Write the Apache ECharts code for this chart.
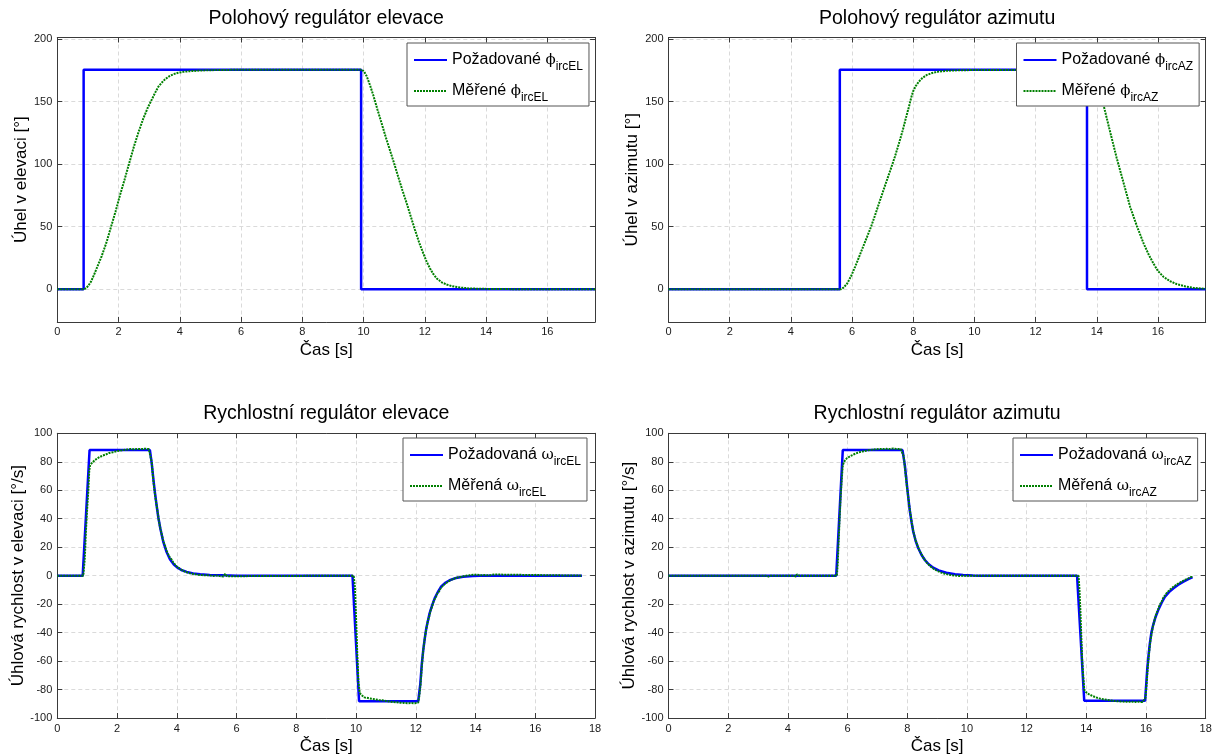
<!DOCTYPE html>
<html><head><meta charset="utf-8">
<script src="https://cdn.jsdelivr.net/npm/echarts@6/dist/echarts.min.js"></script>
<style>html,body{margin:0;padding:0;background:#fff}#c{width:1225px;height:756px}</style>
</head><body><div id="c"></div>
<script>
// ---------- texts ----------
const titles = ['Polohový regulátor elevace','Polohový regulátor azimutu','Rychlostní regulátor elevace','Rychlostní regulátor azimutu'];
const yNames = ['Úhel v elevaci [°]','Úhel v azimutu [°]','Úhlová rychlost v elevaci [°/s]','Úhlová rychlost v azimutu [°/s]'];
const xName = 'Čas [s]';
const legendReqWord = ['Požadované ','Požadované ','Požadovaná ','Požadovaná '];
const legendMeasWord = ['Měřené ','Měřené ','Měřená ','Měřená '];
const legendSym = ['ϕ','ϕ','ω','ω'];
const legendSub = ['ircEL','ircAZ','ircEL','ircAZ'];

// ---------- axis ranges ----------
const posXMax = 17.56, velXMax = 18, xStep = 2;
const posYMin = -26.2, posYMax = 201.4;
const velYMin = -100, velYMax = 100, velYStep = 20;

// ---------- data [t, value] ----------
const posElReq = [[0,0],[0.86,0],[0.86,175.6],[9.92,175.6],[9.92,0],[17.56,0]];
const posElMeas = [[0,0],[0.88,0],[0.95,1],[1.02,3],[1.1,6],[1.2,11.5],[1.3,17.5],[1.45,26.5],[1.6,37],[1.75,49.5],[1.9,62],[2.05,75.5],[2.2,88],[2.35,101],[2.5,114],[2.65,125.5],[2.8,136],[2.95,145],[3.05,150],[3.13,154],[3.2,157.5],[3.3,162],[3.4,165],[3.52,168],[3.65,170.3],[3.79,172],[3.95,173.2],[4.11,173.9],[4.3,174.4],[4.55,174.8],[4.9,175.2],[5.31,175.4],[6,175.6],[9.95,175.6],[10.02,174],[10.1,170.5],[10.2,164],[10.32,155],[10.45,144],[10.59,132.7],[10.72,122],[10.86,111.3],[11.0,100.5],[11.13,90],[11.27,79],[11.41,68.6],[11.55,57.5],[11.68,47.3],[11.82,37],[11.95,28.6],[12.06,22],[12.17,16.6],[12.28,12],[12.39,8.6],[12.55,5.5],[12.71,3.7],[12.9,2.3],[13.15,1.3],[13.45,0.6],[13.8,0.3],[14.3,0.1],[15,0],[17.56,0]];

const posAzReq = [[0,0],[5.6,0],[5.6,175.5],[13.68,175.5],[13.68,0],[17.56,0]];
const posAzMeas = [[0,0],[5.64,0],[5.72,1.2],[5.84,4.5],[5.97,10.5],[6.1,17.9],[6.23,25.8],[6.36,33.9],[6.49,41.8],[6.62,49.9],[6.75,59],[6.88,68.6],[7.01,78],[7.14,87.3],[7.27,96.5],[7.4,106],[7.53,116.5],[7.66,127.4],[7.76,137],[7.86,146],[7.93,153],[7.99,158],[8.08,162.5],[8.18,166],[8.3,169],[8.44,171.4],[8.62,173],[8.83,174.1],[9.1,174.8],[9.49,175.2],[10.2,175.4],[13.72,175.4],[13.8,174],[13.9,170],[14.05,160],[14.22,147.4],[14.43,126.5],[14.65,105],[14.87,85.5],[15.09,65.9],[15.31,50.5],[15.53,36.6],[15.7,27.5],[15.85,20.6],[16.0,14.5],[16.18,9.9],[16.4,6.3],[16.62,4],[16.9,2.2],[17.16,1.0],[17.4,0.5],[17.56,0.3]];

const velElReq = [[0,0],[0.85,0],[1.08,88.2],[3.1,88.2],[3.16,79],[3.22,67],[3.27,58],[3.32,50],[3.38,41],[3.45,33],[3.55,23.5],[3.65,17],[3.77,11.5],[3.9,7.8],[4.0,6],[4.15,4],[4.33,2.6],[4.55,1.6],[4.78,1.0],[5.1,0.5],[5.56,0.2],[6.0,0],[9.88,0],[10.1,-88.2],[12.08,-88.2],[12.15,-76],[12.2,-62],[12.25,-52],[12.3,-44],[12.35,-37],[12.46,-26.5],[12.55,-20.5],[12.63,-16],[12.75,-11],[12.85,-7.5],[13.0,-4.8],[13.13,-3.2],[13.35,-1.6],[13.58,-0.7],[13.9,-0.2],[14.13,0],[17.56,0]];
const velElMeas = [[0,0],[0.87,0],[0.92,12],[0.96,32],[1.0,47],[1.04,60],[1.07,74],[1.1,77.5],[1.15,79],[1.2,79.8],[1.26,81.2],[1.32,81.6],[1.38,82.9],[1.44,83.1],[1.5,84.2],[1.56,83.9],[1.62,85.1],[1.68,85.3],[1.74,86.2],[1.8,85.8],[1.86,86.7],[1.92,86.5],[1.98,87.4],[2.04,87.0],[2.1,87.8],[2.16,87.3],[2.22,88.3],[2.28,87.6],[2.34,88.6],[2.4,87.9],[2.46,88.9],[2.52,88.1],[2.58,88.8],[2.64,88.2],[2.7,89.0],[2.76,88.3],[2.82,88.9],[2.88,88.1],[2.94,89.2],[3.0,88.3],[3.06,88.9],[3.12,88.0],[3.16,80],[3.2,70],[3.24,62],[3.28,55.5],[3.32,50],[3.36,44.5],[3.4,38.5],[3.45,33],[3.5,28.5],[3.55,24],[3.6,21.5],[3.65,18],[3.7,15.5],[3.76,13],[3.82,11.5],[3.88,9.2],[3.94,8.5],[4.0,6.4],[4.06,6.2],[4.12,4.6],[4.18,5.0],[4.24,3.1],[4.3,3.9],[4.36,2.2],[4.42,3.0],[4.48,1.5],[4.54,2.4],[4.6,1.0],[4.66,1.9],[4.72,0.6],[4.78,1.6],[4.84,0.4],[4.9,1.3],[4.96,0.2],[5.02,1.1],[5.08,0.3],[5.14,0.9],[5.2,-0.2],[5.26,0.8],[5.32,0.1],[5.38,0.6],[5.44,-0.3],[5.5,0.7],[5.56,-0.6],[5.62,1.2],[5.68,-0.4],[5.72,0],[9.92,0],[9.96,-8],[10.0,-30],[10.04,-55],[10.08,-75],[10.12,-82],[10.16,-83.5],[10.22,-84.2],[10.28,-85.5],[10.34,-84.9],[10.4,-86.0],[10.46,-85.4],[10.52,-86.5],[10.58,-85.8],[10.64,-86.9],[10.7,-86.2],[10.76,-87.3],[10.82,-86.6],[10.88,-87.6],[10.94,-86.9],[11.0,-88.0],[11.06,-87.2],[11.12,-88.4],[11.18,-87.5],[11.24,-88.8],[11.3,-87.8],[11.36,-89.0],[11.42,-88.1],[11.48,-89.3],[11.54,-88.3],[11.6,-89.4],[11.66,-88.5],[11.72,-89.6],[11.78,-88.6],[11.84,-89.5],[11.9,-88.7],[11.96,-89.6],[12.02,-88.8],[12.08,-89.2],[12.12,-84],[12.16,-76],[12.2,-64],[12.24,-54],[12.28,-47],[12.32,-41],[12.36,-36.5],[12.4,-32],[12.45,-28.5],[12.5,-24],[12.55,-21.5],[12.6,-17.5],[12.66,-15.5],[12.72,-12.5],[12.78,-11],[12.84,-8.5],[12.9,-8.2],[12.96,-6],[13.02,-6.1],[13.08,-4.2],[13.14,-4.6],[13.2,-2.8],[13.26,-3.5],[13.32,-1.8],[13.38,-2.6],[13.44,-1.0],[13.5,-2.0],[13.56,-0.6],[13.62,-1.4],[13.68,-0.1],[13.74,-1.0],[13.8,0.3],[13.86,-0.7],[13.92,0.7],[13.98,-0.5],[14.04,0.6],[14.1,-0.4],[14.16,0.3],[14.22,-0.3],[14.28,0.4],[14.34,-0.2],[14.4,0.2],[14.46,-0.3],[14.52,0.5],[14.58,-0.5],[14.62,0.8],[14.66,0],[17.56,0]];

const velAzReq = [[0,0],[5.62,0],[5.84,88.2],[7.84,88.2],[7.92,77.5],[8.0,61.5],[8.05,52],[8.09,45],[8.15,37],[8.2,31],[8.28,24.5],[8.37,19.2],[8.48,14.5],[8.59,11],[8.72,8],[8.87,5.6],[9.05,3.7],[9.31,2.0],[9.6,1.0],[9.87,0.5],[10.2,0.1],[10.42,0],[13.69,0],[13.93,-87.8],[15.97,-87.8],[16.04,-66],[16.09,-55],[16.13,-47.4],[16.18,-40],[16.24,-34.7],[16.32,-29],[16.41,-24.2],[16.52,-19.2],[16.63,-15],[16.77,-11.6],[16.91,-9],[17.07,-6.5],[17.24,-4.4],[17.4,-2.6],[17.56,-1.0]];
const velAzMeas = [[0,0],[3.26,0],[3.3,-0.8],[3.32,1.1],[3.35,-0.6],[3.38,0.3],[3.42,0],[4.2,0],[4.24,1.0],[4.27,-0.7],[4.3,0.9],[4.34,-0.3],[4.38,0],[5.64,0],[5.67,8],[5.7,24],[5.73,38],[5.76,52],[5.8,66],[5.84,77.5],[5.88,80],[5.92,81.2],[5.98,82.5],[6.04,82.8],[6.1,84],[6.16,84.2],[6.22,85.3],[6.28,85.2],[6.34,86.3],[6.4,86],[6.46,87.1],[6.52,86.6],[6.58,87.6],[6.64,87],[6.7,88.1],[6.76,87.4],[6.82,88.5],[6.88,87.6],[6.94,88.8],[7.0,87.9],[7.06,89.0],[7.12,88],[7.18,88.9],[7.24,87.9],[7.3,89.1],[7.36,88],[7.42,88.9],[7.48,88.2],[7.54,89.3],[7.6,88.1],[7.66,89.0],[7.72,88.2],[7.78,88.9],[7.84,88.3],[7.88,84],[7.92,76],[7.96,68],[8.0,60.5],[8.04,54],[8.08,47],[8.12,41.5],[8.16,36],[8.2,31.5],[8.25,27],[8.3,23.5],[8.36,20.5],[8.42,17],[8.48,15],[8.54,12.5],[8.6,11.2],[8.66,9],[8.72,8.4],[8.78,6.5],[8.84,6.4],[8.9,4.6],[8.96,4.9],[9.02,3.2],[9.08,3.8],[9.14,2.1],[9.2,2.9],[9.26,1.3],[9.32,2.3],[9.38,0.7],[9.44,1.8],[9.5,0.3],[9.56,1.4],[9.62,0.1],[9.68,1.0],[9.74,-0.2],[9.8,0.7],[9.86,-0.1],[9.92,0.5],[9.98,0],[13.15,0],[13.18,-0.9],[13.21,0.5],[13.24,0],[13.74,0],[13.77,-10],[13.8,-24],[13.83,-42],[13.86,-59],[13.9,-72],[13.93,-80],[13.97,-81.5],[14.02,-82.3],[14.08,-83.2],[14.14,-83.4],[14.2,-84.5],[14.26,-84.4],[14.32,-85.5],[14.38,-85.2],[14.44,-86.2],[14.5,-85.7],[14.56,-86.8],[14.62,-86.1],[14.68,-87.2],[14.74,-86.5],[14.8,-87.6],[14.86,-86.8],[14.92,-88.0],[14.98,-87.1],[15.04,-88.2],[15.1,-87.3],[15.16,-88.4],[15.22,-87.4],[15.28,-88.5],[15.34,-87.5],[15.4,-88.6],[15.46,-87.6],[15.52,-88.5],[15.58,-87.5],[15.64,-88.7],[15.7,-87.6],[15.76,-88.6],[15.82,-87.5],[15.88,-88.8],[15.94,-87.7],[15.98,-86],[16.02,-76],[16.06,-64],[16.1,-55],[16.14,-47],[16.18,-41.5],[16.23,-36],[16.28,-31.5],[16.34,-27],[16.4,-24],[16.46,-20.5],[16.52,-18.5],[16.58,-15.5],[16.64,-14.2],[16.7,-12],[16.76,-11.4],[16.82,-9.5],[16.88,-9.2],[16.94,-7.5],[17.0,-7.4],[17.06,-5.8],[17.12,-5.9],[17.18,-4.3],[17.24,-4.6],[17.3,-3.0],[17.36,-3.5],[17.42,-1.9],[17.48,-2.4],[17.52,-0.9],[17.56,-1.3]];

const reqSets = [posElReq, posAzReq, velElReq, velAzReq];
const measSets = [posElMeas, posAzMeas, velElMeas, velAzMeas];

// ---------- layout ----------
const FONT = "'Liberation Sans', Arial, Helvetica, sans-serif";
const grids = [
  {left:57.3, top:37.5, width:537.8, height:284.4},
  {left:668.5, top:37.5, width:537.2, height:284.4},
  {left:57.3, top:433.3, width:537.8, height:285},
  {left:668.5, top:433.3, width:537.2, height:285}
];
const titleTops = [9, 9, 404, 404];
const legendPos = [[407,43],[1016.5,43],[403,438],[1013,438]];
const yNameGaps = [26, 26, 28, 31];
const axisColor = '#3a3a3a';
const gridLine = {show:true, lineStyle:{color:'#dadada', width:1, type:[4,3]}};

const option = {
  animation:false,
  backgroundColor:'#fff',
  title:[], grid:[], xAxis:[], yAxis:[], legend:[], series:[]
};

for (let i = 0; i < 4; i++) {
  const g = grids[i];
  option.grid.push({left:g.left, top:g.top, width:g.width, height:g.height, containLabel:false});
  option.title.push({
    text: titles[i], left: g.left + g.width/2, top: titleTops[i], textAlign:'center', padding:0,
    textStyle:{fontFamily:FONT, fontSize:19.5, fontWeight:'normal', color:'#000'}
  });
  const isPos = i < 2;
  const xBase = {type:'value', gridIndex:i, min:0, max: isPos ? posXMax : velXMax, interval:xStep};
  const yBase = isPos ? {type:'value', gridIndex:i, min:posYMin, max:posYMax, splitNumber:5}
                      : {type:'value', gridIndex:i, min:velYMin, max:velYMax, interval:velYStep};
  const lbl = {fontFamily:FONT, fontSize:11, color:'#1a1a1a'};
  option.xAxis.push(Object.assign({}, xBase, {
    position:'bottom', name:xName, nameLocation:'middle', nameGap:20,
    nameTextStyle:{fontFamily:FONT, fontSize:17, color:'#000'},
    axisLine:{show:true, onZero:false, lineStyle:{color:axisColor, width:1}},
    axisTick:{show:true, inside:true, length:5, lineStyle:{color:axisColor}},
    axisLabel:Object.assign({margin:5, showMaxLabel: !isPos}, lbl),
    splitLine:gridLine
  }));
  option.xAxis.push(Object.assign({}, xBase, {
    position:'top',
    axisLine:{show:true, onZero:false, lineStyle:{color:axisColor, width:1}},
    axisTick:{show:true, inside:true, length:5, lineStyle:{color:axisColor}},
    axisLabel:{show:false}, splitLine:{show:false}
  }));
  option.yAxis.push(Object.assign({}, yBase, {
    position:'left', name:yNames[i], nameLocation:'middle', nameGap:yNameGaps[i], nameRotate:90,
    nameTextStyle:{fontFamily:FONT, fontSize:17, color:'#000'},
    axisLine:{show:true, onZero:false, lineStyle:{color:axisColor, width:1}},
    axisTick:{show:true, inside:true, length:5, lineStyle:{color:axisColor}},
    axisLabel:Object.assign({margin:5, showMinLabel: !isPos, showMaxLabel: !isPos}, lbl),
    splitLine:gridLine
  }));
  option.yAxis.push(Object.assign({}, yBase, {
    position:'right',
    axisLine:{show:true, onZero:false, lineStyle:{color:axisColor, width:1}},
    axisTick:{show:true, inside:true, length:5, lineStyle:{color:axisColor}},
    axisLabel:{show:false}, splitLine:{show:false}
  }));
  const reqName = 'req' + i, measName = 'meas' + i;
  option.series.push({
    name:reqName, type:'line', xAxisIndex:2*i, yAxisIndex:2*i, data:reqSets[i],
    showSymbol:false, symbol:'none', clip:true,
    lineStyle:{color:'#0000ff', width:2.5}, itemStyle:{color:'#0000ff'}, z:2
  });
  option.series.push({
    name:measName, type:'line', xAxisIndex:2*i, yAxisIndex:2*i, data:measSets[i],
    showSymbol:false, symbol:'none', clip:true,
    lineStyle:{color:'#008000', width:2, type:[2,1]}, itemStyle:{color:'#008000'}, z:3
  });
  const words = {}; words[reqName] = legendReqWord[i]; words[measName] = legendMeasWord[i];
  const sym = legendSym[i], sub = legendSub[i];
  option.legend.push({
    data:[reqName, measName], orient:'vertical', left:legendPos[i][0], top:legendPos[i][1],
    padding:[4,6,2,6], itemGap:5, itemWidth:33, itemHeight:14,
    itemStyle:{opacity:0},
    backgroundColor:'#fff', borderColor:'#555', borderWidth:1, borderRadius:0,
    selectedMode:false, z:10,
    formatter: function(n){ return '{m|' + words[n] + '}{p|' + sym + '}{s|' + sub + '}'; },
    textStyle:{
      fontFamily:FONT, fontSize:16, color:'#000',
      rich:{
        m:{fontFamily:FONT, fontSize:16, lineHeight:22, color:'#000'},
        p:{fontFamily:"'DejaVu Serif', 'Liberation Serif', serif", fontSize:15, lineHeight:22, color:'#000'},
        s:{fontFamily:FONT, fontSize:12, lineHeight:12, padding:[14,0,0,0], color:'#000'}
      }
    }
  });
}

const chart = echarts.init(document.getElementById('c'), null, {renderer:'canvas'});
chart.setOption(option);
</script>
</body></html>
